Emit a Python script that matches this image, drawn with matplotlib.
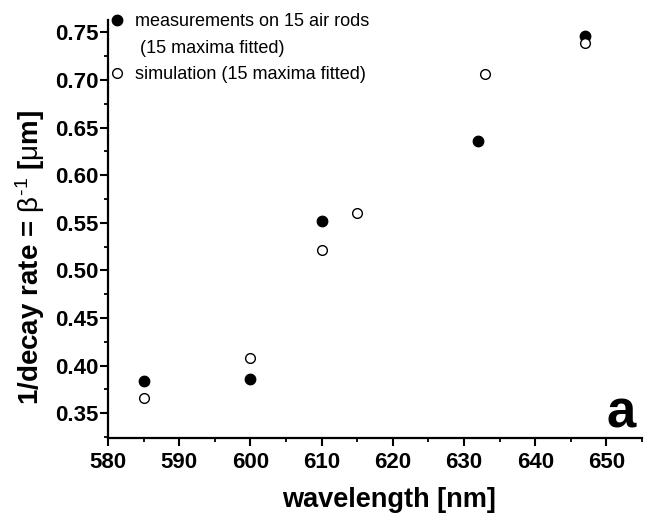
import matplotlib
matplotlib.use("Agg")
import matplotlib.pyplot as plt
from matplotlib.lines import Line2D
from matplotlib.ticker import MultipleLocator

plt.rcParams['font.family'] = ['Liberation Sans', 'DejaVu Sans']
plt.rcParams['mathtext.fontset'] = 'custom'
plt.rcParams['mathtext.rm'] = 'Liberation Sans'
plt.rcParams['mathtext.it'] = 'Liberation Sans'
plt.rcParams['mathtext.bf'] = 'Liberation Sans:bold'

# data
meas_wl = [585, 600, 610, 632, 647]
meas_val = [0.384, 0.386, 0.552, 0.636, 0.746]
sim_wl = [585, 600, 610, 615, 633, 647]
sim_val = [0.366, 0.408, 0.521, 0.560, 0.706, 0.739]

xticks = [580, 590, 600, 610, 620, 630, 640, 650]
yticks = [0.35, 0.40, 0.45, 0.50, 0.55, 0.60, 0.65, 0.70, 0.75]

meas_label = "measurements on 15 air rods"
meas_label2 = " (15 maxima fitted)"
sim_label = "simulation (15 maxima fitted)"

fig = plt.figure(figsize=(6.45, 5.17), dpi=100)
ax = fig.add_axes([108/645, 1 - 438/517, (642-108)/645, (438-20)/517])

ax.plot(meas_wl, meas_val, 'o', color='black', markersize=7.5, linestyle='none')
ax.plot(sim_wl, sim_val, 'o', markerfacecolor='white', markeredgecolor='black',
        markersize=7, markeredgewidth=1.0, linestyle='none')

ax.set_xlim(580, 655)
ax.set_ylim(0.324, 0.763)
ax.set_xticks(xticks)
ax.set_yticks(yticks)
ax.set_xticklabels([str(v) for v in xticks])
ax.set_yticklabels([f"{v:.2f}" for v in yticks])
ax.xaxis.set_minor_locator(MultipleLocator(5))
ax.yaxis.set_minor_locator(MultipleLocator(0.025))

for s in ['top', 'right']:
    ax.spines[s].set_visible(False)
for s in ['left', 'bottom']:
    ax.spines[s].set_linewidth(1.6)

ax.tick_params(which='major', direction='out', length=6, width=1.5,
               labelsize=16)
ax.tick_params(axis='x', which='major', pad=4)
ax.tick_params(axis='y', which='major', pad=0.5)
ax.tick_params(which='minor', direction='out', length=3, width=1.3)
for lab in ax.get_xticklabels() + ax.get_yticklabels():
    lab.set_fontweight('bold')

ax.set_xlabel("wavelength [nm]", fontsize=19.5, fontweight='bold')
ax.xaxis.set_label_coords(0.526, -0.117)
ax.set_ylabel(r"1/decay rate = $\beta^{\text{-1}}$ [$\mu$m]", fontsize=20,
              fontweight='bold')
ax.yaxis.set_label_coords(-0.114, 0.433)

handles = [
    Line2D([], [], marker='o', color='black', linestyle='none', markersize=7.5),
    Line2D([], [], marker='', linestyle='none'),
    Line2D([], [], marker='o', markerfacecolor='white', markeredgecolor='black',
           linestyle='none', markersize=7, markeredgewidth=1.0),
]
leg = ax.legend(handles, [meas_label, meas_label2, sim_label], loc='upper left',
                bbox_to_anchor=(-0.006, 1.025), frameon=False, fontsize=13,
                handlelength=1.0, handletextpad=0.5, labelspacing=0.52,
                borderpad=0.2, borderaxespad=0.0)

ax.text(0.96, 0.024, "a", transform=ax.transAxes, fontsize=38,
        fontweight='bold', ha='center', va='baseline')

fig.savefig("out.png", dpi=100)
